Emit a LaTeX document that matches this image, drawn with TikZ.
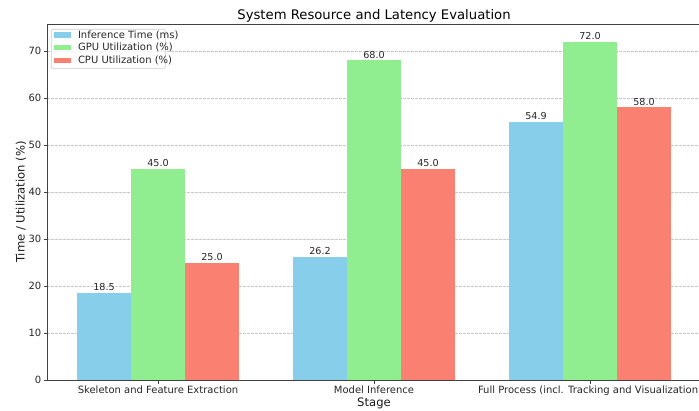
\documentclass[tikz,border=0pt]{standalone}
\usepackage{fontspec}
\setmainfont{DejaVu Sans}
\definecolor{skyb}{HTML}{87CEEB}
\definecolor{lgreen}{HTML}{90EE90}
\definecolor{salmonc}{HTML}{FA8072}
\tikzset{
  ticklab/.style={font=\fontsize{10bp}{11bp}\selectfont, text=black!85, inner sep=0pt},
  barlab/.style={font=\fontsize{9.6bp}{11bp}\selectfont, text=black!85, inner sep=0pt},
  axlab/.style={font=\fontsize{11.6bp}{13bp}\selectfont, text=black!90, inner sep=0pt},
  spine/.style={draw=black!75, line width=0.8bp},
  tickmark/.style={draw=black!75, line width=0.7bp},
  gridline/.style={draw=black!22, line width=0.55bp, dash pattern=on 2.6bp off 1.4bp},
  legpatch/.style={inner sep=0pt, minimum width=16.7bp, minimum height=5.6bp},
}
\begin{document}
\begin{tikzpicture}[x=1bp,y=1bp]
\useasboundingbox (0,0) rectangle (699,410);
\begin{scope}
\clip (0,0) rectangle (699,410);
% horizontal grid
\foreach \v in {10,20,...,70}{
  \draw[gridline] (47,{30+4.7*\v}) -- (701,{30+4.7*\v});
}
% grouped bars, value labels and x ticks
\foreach \i/\a/\b/\c/\lab in {
  0/18.5/45.0/25.0/{Skeleton and Feature Extraction},
  1/26.2/68.0/45.0/{Model Inference},
  2/54.9/72.0/58.0/{Full Process (incl. Tracking and Visualization)}}{
  \pgfmathsetmacro\xc{158+216*\i}
  \fill[skyb]    ({\xc-81},30) rectangle ({\xc-27},{30+4.7*\a});
  \fill[lgreen]  ({\xc-27},30) rectangle ({\xc+27},{30+4.7*\b});
  \fill[salmonc] ({\xc+27},30) rectangle ({\xc+81},{30+4.7*\c});
  \node[barlab, anchor=base] (va\i) at ({\xc-54},{30+4.7*\a+2.2}) {\a};
  \node[barlab, anchor=base] (vb\i) at ({\xc},{30+4.7*\b+2.2}) {\b};
  \node[barlab, anchor=base] (vc\i) at ({\xc+54},{30+4.7*\c+2.2}) {\c};
  \draw[tickmark] (\xc,30) -- (\xc,26.5);
  \node[ticklab, anchor=base] (xl\i) at (\xc,16.2) {\lab};
}
% axes frame
\draw[spine] (47,30) rectangle (701,386);
% y ticks
\foreach \v in {0,10,...,70}{
  \draw[tickmark] (43.5,{30+4.7*\v}) -- (47,{30+4.7*\v});
  \node[ticklab, anchor=east] (yl\v) at (41.5,{30+4.7*\v}) {\v};
}
\end{scope}
% titles
\node[font=\fontsize{13.2bp}{15bp}\selectfont, inner sep=0pt, anchor=base] (title) at (374,390.4) {System Resource and Latency Evaluation};
\node[axlab, anchor=base] (xlabel) at (374,3.2) {Stage};
\node[axlab, rotate=90] (ylabel) at (21,208) {Time / Utilization (\%)};
% legend
\node[draw=black!20, line width=0.6bp, fill=white, fill opacity=0.8, rounded corners=2bp,
      minimum width=114bp, minimum height=39bp, inner sep=0pt, anchor=north west] (legend) at (51,381) {};
\foreach \k/\col/\txt in {0/skyb/{Inference Time (ms)}, 1/lgreen/{GPU Utilization (\%)}, 2/salmonc/{CPU Utilization (\%)}}{
  \node[legpatch, fill=\col] (lp\k) at (62.6,{375-12.65*\k}) {};
  \node[ticklab, anchor=west] (lt\k) at (77.8,{375-12.65*\k}) {\txt};
}
\end{tikzpicture}
\end{document}
